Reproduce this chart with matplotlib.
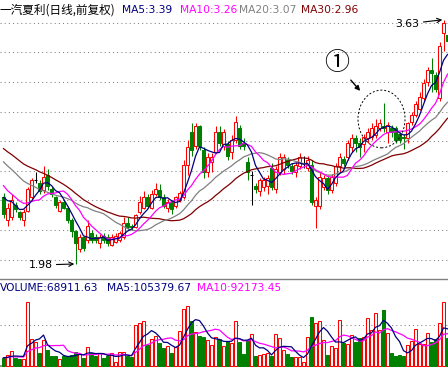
import numpy as np
import pandas as pd
import matplotlib
matplotlib.use('Agg')
import matplotlib.pyplot as plt
from matplotlib.patches import Ellipse

# daily candles (open, high, low, close)
opens = [2.43, 2.28, 2.30, 2.38, 2.33, 2.28, 2.34, 2.43, 2.55, 2.53,
         2.48, 2.58, 2.49, 2.43, 2.34, 2.40, 2.36, 2.28, 2.20, 2.08,
         2.16, 2.14, 2.19, 2.16, 2.12, 2.17, 2.16, 2.11, 2.13, 2.14,
         2.16, 2.26, 2.24, 2.23, 2.33, 2.36, 2.43, 2.36, 2.45, 2.48,
         2.43, 2.36, 2.40, 2.37, 2.41, 2.43, 2.65, 2.87, 2.78, 2.91,
         2.75, 2.60, 2.67, 2.74, 2.87, 2.78, 2.79, 2.74, 2.82, 2.90,
         2.80, 2.67, 2.58, 2.51, 2.47, 2.50, 2.51, 2.63, 2.49, 2.60,
         2.62, 2.68, 2.64, 2.60, 2.64, 2.66, 2.63, 2.65, 2.37, 2.37,
         2.50, 2.56, 2.48, 2.53, 2.64, 2.69, 2.70, 2.77, 2.83, 2.80,
         2.79, 2.83, 2.84, 2.85, 2.90, 2.91, 2.87, 2.90, 2.90, 2.86,
         2.84, 2.83, 2.94, 2.99, 3.03, 3.10, 3.21, 3.29, 3.26, 3.10,
         3.54, 3.53]
highs = [2.46, 2.39, 2.45, 2.40, 2.34, 2.35, 2.50, 2.56, 2.60, 2.55,
         2.64, 2.62, 2.50, 2.44, 2.41, 2.41, 2.37, 2.29, 2.21, 2.18,
         2.17, 2.28, 2.21, 2.18, 2.18, 2.19, 2.18, 2.18, 2.19, 2.20,
         2.30, 2.30, 2.25, 2.32, 2.44, 2.47, 2.45, 2.48, 2.53, 2.52,
         2.45, 2.42, 2.41, 2.44, 2.47, 2.68, 2.82, 2.93, 2.93, 2.92,
         2.77, 2.73, 2.73, 2.91, 2.91, 2.89, 2.81, 2.85, 2.98, 2.92,
         2.83, 2.70, 2.61, 2.53, 2.56, 2.57, 2.58, 2.66, 2.64, 2.73,
         2.72, 2.70, 2.66, 2.67, 2.73, 2.71, 2.71, 2.68, 2.43, 2.60,
         2.58, 2.58, 2.59, 2.66, 2.73, 2.71, 2.82, 2.86, 2.85, 2.83,
         2.86, 2.90, 2.93, 2.96, 2.96, 3.07, 2.94, 2.92, 2.91, 2.87,
         2.86, 2.94, 3.01, 3.08, 3.14, 3.23, 3.31, 3.37, 3.28, 3.48,
         3.63, 3.57]
lows = [2.29, 2.24, 2.28, 2.33, 2.28, 2.24, 2.33, 2.41, 2.53, 2.45,
        2.46, 2.48, 2.43, 2.36, 2.33, 2.35, 2.26, 2.16, 1.98, 2.06,
        2.07, 2.12, 2.12, 2.12, 2.09, 2.12, 2.10, 2.10, 2.12, 2.13,
        2.15, 2.21, 2.21, 2.22, 2.32, 2.35, 2.36, 2.35, 2.44, 2.41,
        2.36, 2.33, 2.32, 2.36, 2.40, 2.42, 2.58, 2.71, 2.76, 2.75,
        2.56, 2.57, 2.60, 2.73, 2.78, 2.75, 2.68, 2.69, 2.80, 2.76,
        2.75, 2.55, 2.38, 2.46, 2.44, 2.47, 2.45, 2.48, 2.46, 2.58,
        2.59, 2.63, 2.59, 2.57, 2.62, 2.63, 2.61, 2.38, 2.22, 2.35,
        2.48, 2.45, 2.46, 2.51, 2.60, 2.64, 2.68, 2.74, 2.74, 2.70,
        2.74, 2.80, 2.82, 2.83, 2.88, 2.87, 2.80, 2.84, 2.80, 2.80,
        2.76, 2.80, 2.92, 2.97, 3.02, 3.08, 3.18, 3.14, 3.14, 3.08,
        3.42, 3.45]
closes = [2.32, 2.36, 2.41, 2.35, 2.30, 2.33, 2.49, 2.55, 2.55, 2.47,
          2.57, 2.51, 2.45, 2.38, 2.40, 2.36, 2.28, 2.20, 2.12, 2.16,
          2.09, 2.24, 2.14, 2.14, 2.16, 2.14, 2.12, 2.16, 2.17, 2.19,
          2.26, 2.23, 2.23, 2.31, 2.40, 2.43, 2.37, 2.45, 2.49, 2.43,
          2.37, 2.40, 2.35, 2.43, 2.46, 2.65, 2.77, 2.75, 2.91, 2.78,
          2.60, 2.70, 2.70, 2.87, 2.80, 2.87, 2.71, 2.82, 2.94, 2.78,
          2.78, 2.60, 2.58, 2.49, 2.55, 2.55, 2.56, 2.50, 2.62, 2.70,
          2.70, 2.65, 2.61, 2.65, 2.70, 2.66, 2.68, 2.40, 2.41, 2.57,
          2.56, 2.48, 2.57, 2.64, 2.70, 2.66, 2.80, 2.83, 2.80, 2.77,
          2.84, 2.87, 2.90, 2.91, 2.93, 2.90, 2.92, 2.87, 2.82, 2.82,
          2.83, 2.93, 2.99, 3.06, 3.11, 3.20, 3.29, 3.27, 3.16, 3.45,
          3.61, 3.49]
# closes before the visible window (only feed the moving averages)
pre_closes = [3.00, 2.98, 2.97, 2.95, 2.96, 2.93, 2.92, 2.90, 2.91, 2.88,
              2.90, 2.88, 2.86, 2.85, 2.84, 2.82, 2.80, 2.81, 2.78, 2.76,
              2.70, 2.64, 2.58, 2.54, 2.49, 2.47, 2.44, 2.48, 2.44]

volumes = [18800, 26800, 36600, 19500, 17100, 17100, 156800, 65900, 59300, 31700,
           63400, 39000, 24400, 24400, 17000, 25000, 25000, 26800, 34900, 29300,
           20200, 46300, 31000, 24400, 31000, 18800, 25000, 31700, 10500, 33400,
           33400, 25000, 22700, 100000, 105600, 109800, 51200, 65100, 73200, 56800,
           43200, 48800, 31000, 45600, 85400, 139000, 147000, 110500, 83700, 73900,
           71500, 63400, 51200, 71500, 65900, 48800, 61000, 55000, 110000, 59000,
           28500, 63400, 78000, 24400, 26800, 29000, 31000, 24400, 78000, 67500,
           39000, 28500, 21000, 22700, 21000, 10500, 71500, 120000, 104000, 110000,
           63400, 26800, 48800, 43000, 112000, 55000, 53700, 75600, 59000, 69000,
           71500, 116000, 87800, 128500, 87800, 136600, 79700, 31000, 25000, 26800,
           25000, 51200, 61000, 89500, 53000, 53000, 79700, 59000, 65000, 104000,
           156800, 68911.63]
pre_volumes = [21000, 18000, 24000, 20000, 19000, 23000, 22000, 17000, 20000]

title = '一汽夏利(日线,前复权)'
ma_labels = ['MA5:3.39', 'MA10:3.26', 'MA20:3.07', 'MA30:2.96']
vol_labels = ['VOLUME:68911.63', 'MA5:105379.67', 'MA10:92173.45']
grid_levels = [2.01, 2.21, 2.41, 2.61, 2.81, 3.01, 3.21, 3.41, 3.61]

RED = '#ff0000'
GREEN = '#008000'
NAVY = '#000080'
MAG = '#ff00ff'
GRAY = '#808080'
MAROON = '#800000'

n = len(closes)
x = np.arange(n)
o = np.array(opens)
c = np.array(closes)
h = np.array(highs)
l = np.array(lows)
v = np.array(volumes)

close_all = pd.Series(pre_closes + closes)
ma = {}
for k in [5, 10, 20, 30]:
    ma[k] = close_all.rolling(k).mean().values[len(pre_closes):]
vol_all = pd.Series(pre_volumes + volumes)
vma5 = vol_all.rolling(5).mean().values[len(pre_volumes):]
vma10 = vol_all.rolling(10).mean().values[len(pre_volumes):]

fig = plt.figure(figsize=(4.48, 3.68), dpi=100)
ax = fig.add_axes([0, 89/368, 1, 279/368])
axv = fig.add_axes([0, 0, 1, 89/368])

for a in (ax, axv):
    a.set_xlim(-0.875, n - 0.875)
    a.set_xticks([])
    a.set_yticks([])
    for s in a.spines.values():
        s.set_visible(False)

ax.set_ylim(1.8786, 3.764)
for g in grid_levels:
    ax.axhline(g, color=GRAY, lw=0.75, ls=(0, (1, 3)), zorder=1)

# candles
up = c > o
down = c < o
flat = c == o
cols = np.where(up, RED, np.where(down, GREEN, 'black'))
ax.vlines(x, l, h, colors=cols, lw=0.75, zorder=2)
body = np.maximum(np.abs(c - o), 0.004)
bottom = np.minimum(o, c)
ax.bar(x[up], body[up], bottom=bottom[up], width=0.75, facecolor='white',
       edgecolor=RED, lw=0.75, zorder=3)
ax.bar(x[down], body[down], bottom=bottom[down], width=0.75, facecolor=GREEN,
       edgecolor=GREEN, lw=0.75, zorder=3)
ax.hlines(o[flat], x[flat] - 0.45, x[flat] + 0.45, colors='black', lw=0.75, zorder=3)

ax.plot(x, ma[30], color=MAROON, lw=0.9, zorder=4)
ax.plot(x, ma[20], color=GRAY, lw=0.9, zorder=4)
ax.plot(x, ma[10], color=MAG, lw=0.9, zorder=4)
ax.plot(x, ma[5], color=NAVY, lw=0.9, zorder=4)

# low / high labels
i_lo = int(np.argmin(l))
i_hi = int(np.argmax(h))
ax.annotate('1.98', xy=(i_lo - 0.3, l[i_lo]), xytext=(-22, -1), textcoords='offset pixels',
            ha='right', va='center', fontsize=7.8, family='DejaVu Sans',
            arrowprops=dict(arrowstyle='->', color='black', lw=0.8, shrinkA=1, shrinkB=0))
ax.annotate('3.63', xy=(i_hi - 0.3, h[i_hi]), xytext=(-23, -4), textcoords='offset pixels',
            ha='right', va='center', fontsize=7.8, family='DejaVu Sans',
            arrowprops=dict(arrowstyle='->', color='black', lw=0.8, shrinkA=1, shrinkB=0))

# marked region
ax.add_patch(Ellipse((94.5, 2.96), 11.75, 0.39, fill=False, ec='black',
                     lw=0.7, ls=(0, (2, 2)), zorder=5))
fig.text(337/448, 1 - 63/368, '①', ha='center', va='center', fontsize=18,
         family=['Noto Sans CJK SC', 'DejaVu Sans'])
ax.annotate('', xy=(362, 368 - 93), xytext=(349, 368 - 78), xycoords='figure pixels',
            textcoords='figure pixels',
            arrowprops=dict(arrowstyle='-|>', color='black', lw=1.0, mutation_scale=7))

# header texts
ty = 1 - 10/368
fig.text(0/448, ty, title, ha='left', va='center', fontsize=8.4, family='Noto Sans CJK SC')
for lab, col, px in zip(ma_labels, [NAVY, MAG, GRAY, MAROON], [122, 180, 239, 301]):
    fig.text(px/448, ty, lab, ha='left', va='center', fontsize=7.7,
             family='DejaVu Sans', color=col)

# volume panel
axv.set_ylim(-4878, 212193)
axv.axhline(100000, color=GRAY, lw=0.75, ls=(0, (1, 3)), zorder=1)
axv.axhline(0, color=GRAY, lw=1.2, zorder=1)
axv.spines['top'].set_visible(True)
axv.spines['top'].set_color(GRAY)
axv.spines['top'].set_linewidth(1.0)
vup = c >= o
axv.bar(x[vup], v[vup], width=0.75, facecolor='white', edgecolor=RED, lw=0.75, zorder=2)
axv.bar(x[~vup], v[~vup], width=0.75, facecolor=GREEN, edgecolor=GREEN, lw=0.75, zorder=2)
axv.plot(x, vma10, color=MAG, lw=0.9, zorder=3)
axv.plot(x, vma5, color=NAVY, lw=0.9, zorder=3)

vy = 1 - 288/368
for lab, col, px in zip(vol_labels, [NAVY, NAVY, MAG], [0, 107, 197]):
    fig.text(px/448, vy, lab, ha='left', va='center', fontsize=7.7,
             family='DejaVu Sans', color=col)

fig.savefig('out.png', dpi=100, facecolor='white')
